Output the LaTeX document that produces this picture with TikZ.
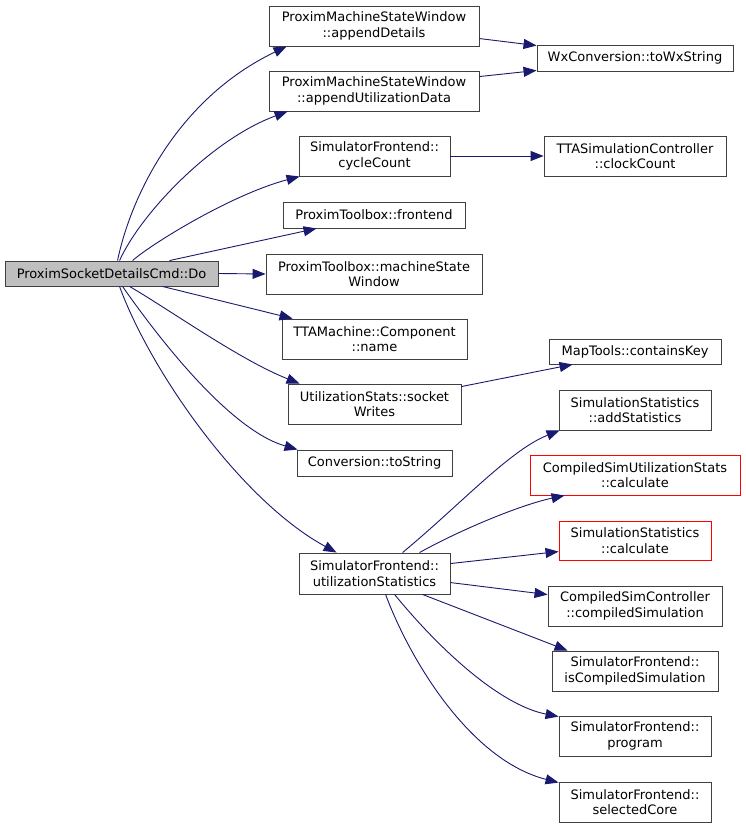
\documentclass[tikz,border=0pt]{standalone}
\usepackage{fontspec}
\setmainfont{DejaVu Sans}
\usetikzlibrary{arrows.meta}
\definecolor{edgec}{HTML}{191970}
\definecolor{rootfill}{HTML}{BFBFBF}
\definecolor{boxline}{HTML}{404040}
\begin{document}
\begin{tikzpicture}[x=1pt,y=-1pt,
  box/.style={draw=boxline, line width=0.9pt, fill=white, inner sep=0pt, align=center,
    font=\fontsize{13}{15.5}\selectfont, anchor=center},
  redbox/.style={box, draw=red},
  rootbox/.style={box, fill=rootfill},
  edge/.style={draw=edgec, line width=0.9pt, -{Triangle[length=13pt,width=10pt]}}]
\useasboundingbox[fill=white] (0,0) rectangle (745,828);
% nodes
\node[rootbox, minimum width=213pt, minimum height=25pt] (Do) at (111.5,273.5) {ProximSocketDetailsCmd::Do};
\node[box, minimum width=210pt, minimum height=40pt] (ad) at (374,26) {ProximMachineStateWindow\\::appendDetails};
\node[box, minimum width=210pt, minimum height=40pt] (au) at (374,91) {ProximMachineStateWindow\\::appendUtilizationData};
\node[box, minimum width=151pt, minimum height=40pt] (cc) at (374.5,156) {SimulatorFrontend::\\cycleCount};
\node[box, minimum width=182pt, minimum height=26pt] (fe) at (374,215) {ProximToolbox::frontend};
\node[box, minimum width=216pt, minimum height=40pt] (ms) at (374,274) {ProximToolbox::machineState\\Window};
\node[box, minimum width=185pt, minimum height=40pt] (cn) at (374.5,339) {TTAMachine::Component\\::name};
\node[box, minimum width=173pt, minimum height=40pt] (sw) at (374.5,404) {UtilizationStats::socket\\Writes};
\node[box, minimum width=155pt, minimum height=26pt] (ts) at (374.5,463) {Conversion::toString};
\node[box, minimum width=151pt, minimum height=41pt] (us) at (374.5,573.5) {SimulatorFrontend::\\utilizationStatistics};
\node[box, minimum width=196pt, minimum height=26pt] (wx) at (635,58) {WxConversion::toWxString};
\node[box, minimum width=182pt, minimum height=40pt] (ck) at (635,156) {TTASimulationController\\::clockCount};
\node[box, minimum width=172pt, minimum height=25pt] (mk) at (635,351.5) {MapTools::containsKey};
\node[box, minimum width=152pt, minimum height=40pt] (as) at (635,410) {SimulationStatistics\\::addStatistics};
\node[redbox, minimum width=210pt, minimum height=40pt] (cs) at (635,475) {CompiledSimUtilizationStats\\::calculate};
\node[redbox, minimum width=152pt, minimum height=39pt] (sc) at (635,540.5) {SimulationStatistics\\::calculate};
\node[box, minimum width=174pt, minimum height=40pt] (csm) at (635,606) {CompiledSimController\\::compiledSimulation};
\node[box, minimum width=166pt, minimum height=40pt] (ic) at (635,671) {SimulatorFrontend::\\isCompiledSimulation};
\node[box, minimum width=152pt, minimum height=40pt] (pr) at (635,736) {SimulatorFrontend::\\program};
\node[box, minimum width=152pt, minimum height=40pt] (sel) at (635,802) {SimulatorFrontend::\\selectedCore};
% edges from Do
\draw[edge] ([xshift=113pt]Do.north west) .. controls (130,200) and (175,100) .. ([xshift=18pt]ad.south west);
\draw[edge] ([xshift=115pt]Do.north west) .. controls (140,215) and (210,140) .. ([xshift=19pt]au.south west);
\draw[edge] ([xshift=128pt]Do.north west) .. controls (150,245) and (230,195) .. ([xshift=1pt]cc.south west);
\draw[edge] ([xshift=165pt]Do.north west) -- ([xshift=34pt]fe.south west);
\draw[edge] (Do.east) -- (ms.west);
\draw[edge] ([xshift=158pt]Do.south west) -- ([xshift=11pt]cn.north west);
\draw[edge] ([xshift=125pt]Do.south west) .. controls (170,310) and (240,360) .. ([xshift=12pt]sw.north west);
\draw[edge] ([xshift=118pt]Do.south west) .. controls (160,340) and (230,430) .. ([xshift=1pt]ts.north west);
\draw[edge] ([xshift=115pt]Do.south west) .. controls (150,370) and (240,500) .. ([xshift=38pt]us.north west);
% second level
\draw[edge] ([yshift=-33pt]ad.north east) -- ([yshift=-1pt]wx.north west);
\draw[edge] ([yshift=-6pt]au.north east) -- ([yshift=1pt]wx.south west);
\draw[edge] (cc.east) -- (ck.west);
\draw[edge] ([yshift=-3pt]sw.north east) -- ([xshift=24pt]mk.south west);
\draw[edge] ([xshift=104pt]us.north west) .. controls (460,505) and (510,450) .. ([xshift=1pt]as.south west);
\draw[edge] ([xshift=121pt]us.north west) .. controls (460,530) and (520,505) .. ([xshift=35pt]cs.south west);
\draw[edge] ([yshift=-11pt]us.north east) -- ([yshift=-31pt]sc.north west);
\draw[edge] ([yshift=-30pt]us.north east) -- ([yshift=-9pt]csm.north west);
\draw[edge] ([xshift=124pt]us.south west) -- ([xshift=16pt]ic.north west);
\draw[edge] ([xshift=96pt]us.south west) .. controls (440,650) and (500,705) .. ([yshift=-1pt]pr.north west);
\draw[edge] ([xshift=87pt]us.south west) .. controls (410,660) and (470,760) .. ([yshift=-1pt]sel.north west);
\end{tikzpicture}
\end{document}
